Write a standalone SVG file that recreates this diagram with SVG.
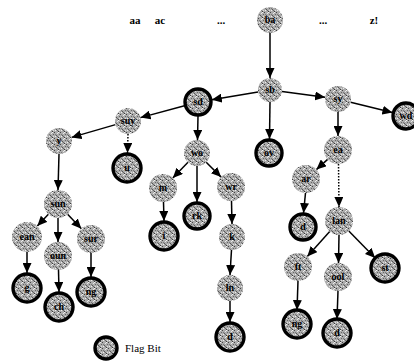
<svg xmlns="http://www.w3.org/2000/svg" width="414" height="363" viewBox="0 0 414 363">
<defs>
<pattern id="grain" width="6" height="6" patternUnits="userSpaceOnUse">
<rect width="6" height="6" fill="#acacac"/>
<rect x="0" y="0" width="1" height="1" fill="#444"/>
<rect x="3" y="1" width="1" height="1" fill="#e8e8e8"/>
<rect x="2" y="3" width="1" height="1" fill="#555"/>
<rect x="5" y="2" width="1" height="1" fill="#666"/>
<rect x="1" y="4" width="1" height="1" fill="#eee"/>
<rect x="4" y="5" width="1" height="1" fill="#3a3a3a"/>
<rect x="5" y="4" width="1" height="1" fill="#dcdcdc"/>
<rect x="1" y="2" width="1" height="1" fill="#777"/>
<rect x="4" y="0" width="1" height="1" fill="#f4f4f4"/>
<rect x="3" y="4" width="1" height="1" fill="#666"/>
</pattern>
<marker id="ah" markerUnits="userSpaceOnUse" markerWidth="10" markerHeight="9" refX="10" refY="4.5" orient="auto">
<path d="M0,0 L10,4.5 L0,9 z" fill="#000"/>
</marker>
</defs>
<style>
.g{fill:url(#grain);stroke:none}
.f{fill:url(#grain);stroke:#000;stroke-width:3.4}
.lb{font-family:"Liberation Serif",serif;font-weight:bold;font-size:10px;fill:#000;text-anchor:middle}
.top{font-family:"Liberation Serif",serif;font-weight:bold;font-size:11px;fill:#000;text-anchor:middle}
.e{stroke:#000;stroke-width:1.5;fill:none;marker-end:url(#ah)}
.dt{stroke-dasharray:1.5 1.5}
</style>
<rect width="414" height="363" fill="#fff"/>
<g id="header">
<text class="top" x="135" y="24">aa</text>
<text class="top" x="160" y="24">ac</text>
<text class="top" x="221" y="24">...</text>
<text class="top" x="323" y="24">...</text>
<text class="top" x="374" y="24">z!</text>
</g>
<g id="connectors">
<line class="e" x1="270" y1="33" x2="270" y2="78"/>
<line class="e" x1="258" y1="92" x2="211.8" y2="99.7"/>
<line class="e" x1="282" y1="91.6" x2="325.1" y2="97.3"/>
<line class="e" x1="270" y1="102" x2="269.5" y2="139"/>
<line class="e" x1="350.6" y1="102.2" x2="392.4" y2="112.6"/>
<line class="e" x1="338" y1="112" x2="338" y2="136"/>
<line class="e" x1="184.5" y1="105.7" x2="140.5" y2="117.6"/>
<line class="e" x1="198" y1="116" x2="197.5" y2="140"/>
<line class="e" x1="115.5" y1="124.6" x2="71.5" y2="137.4"/>
<line class="e dt" x1="128" y1="134" x2="127.5" y2="153"/>
<line class="e" x1="59" y1="154" x2="58" y2="190"/>
<line class="e" x1="188" y1="162.3" x2="172.8" y2="178"/>
<line class="e" x1="197" y1="166" x2="197" y2="202"/>
<line class="e" x1="206.2" y1="162.2" x2="221.1" y2="177.1"/>
<line class="e" x1="163.5" y1="202" x2="164" y2="221"/>
<line class="e" x1="231.5" y1="201" x2="232" y2="224"/>
<line class="e" x1="231.5" y1="250" x2="230" y2="275"/>
<line class="e" x1="230" y1="301" x2="230" y2="322"/>
<line class="e" x1="327.6" y1="159.4" x2="316.4" y2="169.6"/>
<line class="e dt" x1="338.5" y1="164" x2="339" y2="207"/>
<line class="e" x1="305.5" y1="193" x2="303.5" y2="213"/>
<line class="e" x1="329.7" y1="231.5" x2="307.3" y2="256.5"/>
<line class="e" x1="339" y1="235" x2="338.5" y2="263"/>
<line class="e" x1="348.8" y1="231" x2="375.2" y2="258"/>
<line class="e" x1="298" y1="281" x2="297" y2="310"/>
<line class="e" x1="338" y1="291" x2="337" y2="319"/>
<line class="e" x1="48.4" y1="214.2" x2="37.3" y2="226.1"/>
<line class="e" x1="58" y1="218" x2="58" y2="242"/>
<line class="e" x1="67.6" y1="214.2" x2="81.4" y2="228.8"/>
<line class="e" x1="27" y1="252" x2="27" y2="273"/>
<line class="e" x1="58.5" y1="270" x2="59" y2="292"/>
<line class="e" x1="91" y1="253" x2="91" y2="277"/>
</g>
<g id="n-ba"><circle class="g" cx="270" cy="20" r="13"/><text class="lb" x="270" y="23">ba</text></g>
<g id="n-sb"><circle class="g" cx="270" cy="90" r="12"/><text class="lb" x="270" y="93">sb</text></g>
<g id="n-sd"><circle class="f" cx="198" cy="102" r="13"/><text class="lb" x="198" y="105">sd</text></g>
<g id="n-sy"><circle class="g" cx="338" cy="99" r="13"/><text class="lb" x="338" y="102">sy</text></g>
<g id="n-wd"><circle class="f" cx="406" cy="116" r="13"/><text class="lb" x="406" y="119">wd</text></g>
<g id="n-suy"><circle class="g" cx="128" cy="121" r="13"/><text class="lb" x="128" y="124">suy</text></g>
<g id="n-y"><circle class="g" cx="59" cy="141" r="13"/><text class="lb" x="59" y="144">y</text></g>
<g id="n-u"><circle class="f" cx="127" cy="168" r="14"/><text class="lb" x="127" y="171">u</text></g>
<g id="n-wo"><circle class="g" cx="197" cy="153" r="13"/><text class="lb" x="197" y="156">wo</text></g>
<g id="n-ov"><circle class="f" cx="269" cy="153" r="13"/><text class="lb" x="269" y="156">ov</text></g>
<g id="n-ea"><circle class="g" cx="338" cy="150" r="14"/><text class="lb" x="338" y="153">ea</text></g>
<g id="n-m"><circle class="g" cx="163" cy="188" r="14"/><text class="lb" x="163" y="191">m</text></g>
<g id="n-rk"><circle class="f" cx="197" cy="216" r="13"/><text class="lb" x="197" y="219">rk</text></g>
<g id="n-wr"><circle class="g" cx="231" cy="187" r="14"/><text class="lb" x="231" y="190">wr</text></g>
<g id="n-ar"><circle class="g" cx="306" cy="179" r="14"/><text class="lb" x="306" y="182">ar</text></g>
<g id="n-sun"><circle class="g" cx="58" cy="204" r="14"/><text class="lb" x="58" y="207">sun</text></g>
<g id="n-ean"><circle class="g" cx="27" cy="237" r="15"/><text class="lb" x="27" y="240">ean</text></g>
<g id="n-oun"><circle class="g" cx="58" cy="256" r="14"/><text class="lb" x="58" y="259">oun</text></g>
<g id="n-sur"><circle class="g" cx="91" cy="239" r="14"/><text class="lb" x="91" y="242">sur</text></g>
<g id="n-i"><circle class="f" cx="164" cy="236" r="14"/><text class="lb" x="164" y="239">i</text></g>
<g id="n-k"><circle class="g" cx="232" cy="237" r="13"/><text class="lb" x="232" y="240">k</text></g>
<g id="n-d1"><circle class="f" cx="303" cy="227" r="13"/><text class="lb" x="303" y="230">d</text></g>
<g id="n-lan"><circle class="g" cx="339" cy="221" r="14"/><text class="lb" x="339" y="224">lan</text></g>
<g id="n-g"><circle class="f" cx="27" cy="288" r="14"/><text class="lb" x="27" y="291">g</text></g>
<g id="n-ch"><circle class="f" cx="59" cy="307" r="14"/><text class="lb" x="59" y="310">ch</text></g>
<g id="n-ng1"><circle class="f" cx="91" cy="292" r="14"/><text class="lb" x="91" y="295">ng</text></g>
<g id="n-ln"><circle class="g" cx="230" cy="288" r="13"/><text class="lb" x="230" y="291">ln</text></g>
<g id="n-ft"><circle class="g" cx="298" cy="267" r="14"/><text class="lb" x="298" y="270">ft</text></g>
<g id="n-ool"><circle class="g" cx="338" cy="277" r="14"/><text class="lb" x="338" y="280">ool</text></g>
<g id="n-st"><circle class="f" cx="385" cy="268" r="14"/><text class="lb" x="385" y="271">st</text></g>
<g id="n-d2"><circle class="f" cx="230" cy="337" r="14"/><text class="lb" x="230" y="340">d</text></g>
<g id="n-ng2"><circle class="f" cx="297" cy="324" r="14"/><text class="lb" x="297" y="327">ng</text></g>
<g id="n-d3"><circle class="f" cx="337" cy="333" r="14"/><text class="lb" x="337" y="336">d</text></g>
<g id="legend">
<circle class="f" cx="106" cy="348" r="11"/>
<text x="125" y="352" style="font-family:'Liberation Serif',serif;font-size:11px;fill:#000">Flag Bit</text>
</g>
</svg>
